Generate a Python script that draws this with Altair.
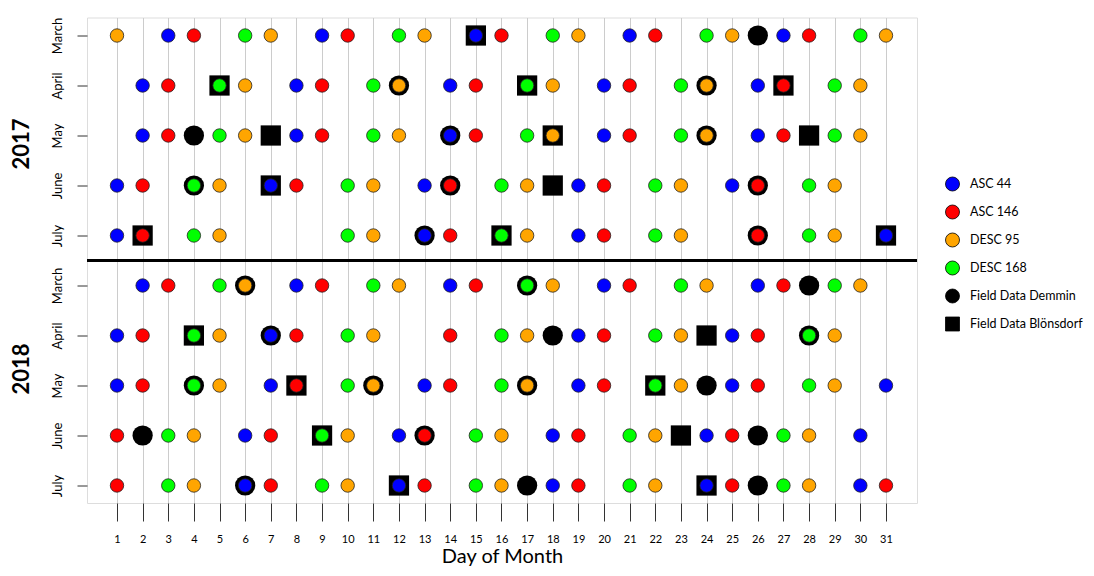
import json
import altair as alt
import pandas as pd

# ---------------- data ----------------
YEARS = ["2017", "2018"]
MONTHS = ["March", "April", "May", "June", "July"]
DAYS = list(range(1, 32))
SERIES = ["ASC 44", "ASC 146", "DESC 95", "DESC 168",
          "Field Data Demmin", "Field Data Blönsdorf"]

# rows: 2017 March..July, then 2018 March..July
ASC_44 = [[3, 9, 15, 21, 27], [2, 8, 14, 20, 26], [2, 8, 14, 20, 26],
          [1, 7, 13, 19, 25], [1, 13, 19, 31],
          [2, 8, 14, 20, 26], [1, 7, 19, 25], [1, 7, 13, 19, 25, 31],
          [6, 12, 18, 24, 30], [6, 12, 18, 24, 30]]
ASC_146 = [[4, 10, 16, 22, 28], [3, 9, 15, 21, 27], [3, 9, 15, 21, 27],
           [2, 8, 14, 20, 26], [2, 14, 20, 26],
           [3, 9, 15, 21, 27], [2, 8, 14, 20, 26], [2, 8, 14, 20, 26],
           [1, 7, 13, 19, 25], [1, 7, 13, 19, 25, 31]]
DESC_95 = [[1, 7, 13, 19, 25, 31], [6, 12, 18, 24, 30], [6, 12, 18, 24, 30],
           [5, 11, 17, 23, 29], [5, 11, 17, 23, 29],
           [6, 12, 18, 24, 30], [5, 11, 17, 23, 29], [5, 11, 17, 23, 29],
           [4, 10, 16, 22, 28], [4, 10, 16, 22, 28]]
DESC_168 = [[6, 12, 18, 24, 30], [5, 11, 17, 23, 29], [5, 11, 17, 23, 29],
            [4, 10, 16, 22, 28], [4, 10, 16, 22, 28],
            [5, 11, 17, 23, 29], [4, 10, 16, 22, 28], [4, 10, 16, 22, 28],
            [3, 9, 15, 21, 27], [3, 9, 15, 21, 27]]
DEMMIN = [[26], [12, 24], [4, 14, 24], [4, 14, 26], [13, 26],
          [6, 17, 28], [7, 18, 28], [4, 11, 17, 24], [2, 13, 26], [6, 17, 26]]
BLOENSDORF = [[15], [5, 17, 27], [7, 18, 28], [7, 18], [2, 16, 31],
              [], [4, 24], [8, 22], [9, 23], [12, 24]]

YEAR_LABEL_ROWS = [2.17, 6.67]
SEPARATOR_ROW = [4.5]

COLORS = ["#0000ff", "#ff0000", "#ffa500", "#00ff00", "#000000", "#000000"]
SHAPES = ["circle", "circle", "circle", "circle", "circle", "square"]

FONT = "Lato"


def to_records(series, rows):
    out = []
    for r, days in enumerate(rows):
        for d in days:
            out.append({"series": series, "day": d, "row": r})
    return out


sat_records = (to_records(SERIES[0], ASC_44) + to_records(SERIES[1], ASC_146)
               + to_records(SERIES[2], DESC_95) + to_records(SERIES[3], DESC_168))
field_records = to_records(SERIES[4], DEMMIN) + to_records(SERIES[5], BLOENSDORF)

sat_df = pd.DataFrame(sat_records)
field_df = pd.DataFrame(field_records)
year_df = pd.DataFrame({"year": YEARS, "row": YEAR_LABEL_ROWS})
sep_df = pd.DataFrame({"row": SEPARATOR_ROW})

# ---------------- encodings ----------------
month_expr = "{}[datum.value % 5]".format(json.dumps(MONTHS))

Y = alt.Y(
    "row:Q",
    scale=alt.Scale(domain=[-0.36, 9.35], reverse=True, nice=False, zero=False),
    axis=alt.Axis(values=list(range(10)), labelExpr=month_expr, labelAngle=270,
                  labelAlign="center", labelBaseline="bottom", labelPadding=13,
                  labelFontSize=13, labelFont=FONT, labelColor="black",
                  labelOverlap=False, tickSize=10, tickColor="#333333",
                  grid=False, domain=False),
    title=None,
)

X = alt.X(
    "day:Q",
    scale=alt.Scale(domain=[-0.17, 32.21], nice=False, zero=False),
    axis=alt.Axis(values=DAYS, grid=True, gridColor="#cccccc", gridWidth=1,
                  tickSize=18, tickColor="#333333", labelPadding=12,
                  labelFontSize=11, labelFont=FONT,
                  labelColor="black", labelFlush=False, labelOverlap=False,
                  domain=False, titleFont=FONT, titleFontSize=20,
                  titleFontWeight="normal", titleColor="black", titlePadding=2),
    title="Day of Month",
)

legend = alt.Legend(title=None, orient="none", legendX=858, legendY=159,
                    symbolSize=196, labelFontSize=12.5, labelFont=FONT,
                    labelColor="black", rowPadding=9, labelOffset=10,
                    labelLimit=200,
                    symbolStrokeColor="black", symbolStrokeWidth=0.8,
                    padding=0)

color = alt.Color("series:N", scale=alt.Scale(domain=SERIES, range=COLORS),
                  legend=legend)
shape = alt.Shape("series:N", scale=alt.Scale(domain=SERIES, range=SHAPES),
                  legend=legend)

field = alt.Chart(field_df).mark_point(filled=True, size=410, opacity=1).encode(
    x=X, y=Y, color=color, shape=shape)

sat = alt.Chart(sat_df).mark_point(filled=True, size=180, opacity=1,
                                   stroke="#222222", strokeWidth=0.8).encode(
    x=X, y=Y, color=color, shape=shape)

sep = alt.Chart(sep_df).mark_rule(color="black", strokeWidth=3).encode(y=Y)

years = alt.Chart(year_df).mark_text(angle=270, fontSize=22, fontWeight="bold",
                                     font=FONT, align="center",
                                     baseline="middle", color="black").encode(
    y=Y, x=alt.value(-65), text="year:N")

chart = alt.layer(field, sat, sep, years).properties(
    width=830, height=485.5,
    autosize=alt.AutoSizeParams(type="none"),
    padding={"left": 79, "top": 9.5, "right": 169, "bottom": 65},
).configure_view(stroke="#333333", strokeWidth=1).configure(background="white")

chart.save("out.html", embed_options={"renderer": "svg", "actions": False})
